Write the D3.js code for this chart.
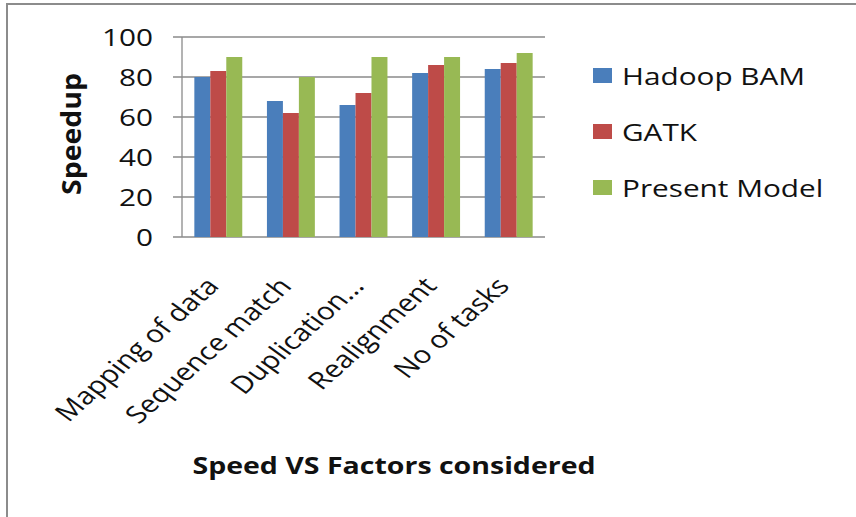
<!DOCTYPE html>
<html>
<head>
<meta charset="utf-8">
<script src="https://cdn.jsdelivr.net/npm/d3@7"></script>
<style>
  body { margin: 0; background: #fff; }
  svg text { font-family: "Open Sans", "DejaVu Sans", sans-serif; fill: #111; }
</style>
</head>
<body>
<svg id="chart" width="856" height="517"></svg>
<script>
// data
const categories = ['Mapping of data', 'Sequence match', 'Duplication...', 'Realignment', 'No of tasks']
const seriesNames = ['Hadoop BAM', 'GATK', 'Present Model']
const hadoopBam = [80, 68, 66, 82, 84]
const gatk = [83, 62, 72, 86, 87]
const presentModel = [90, 80, 90, 90, 92]
const yTicks = [0, 20, 40, 60, 80, 100]
const colors = ['#4a7ebb', '#be4b48', '#98b954']

const seriesValues = [hadoopBam, gatk, presentModel]
const rows = categories.map((c, i) => ({
  category: c,
  values: seriesNames.map((s, j) => ({ key: s, value: seriesValues[j][i] })),
}))

// the source picture is stretched sideways, so texts get a horizontal scale
const sx = 1.24
const place = (x, y) => `translate(${x},${y}) scale(${sx},1)`

const svg = d3.select('#chart')

// outer frame of the chart
svg
  .append('rect')
  .attr('x', 7)
  .attr('y', 4)
  .attr('width', 870)
  .attr('height', 540)
  .attr('fill', 'none')
  .attr('stroke', '#8c8c8c')
  .attr('stroke-width', 2)

const plot = { left: 182, right: 545, top: 37, bottom: 237 }

const y = d3.scaleLinear().domain([0, 100]).range([plot.bottom, plot.top])
const x0 = d3
  .scaleBand()
  .domain(categories)
  .range([plot.left, plot.right])
  .paddingInner(0.34)
  .paddingOuter(0.17)
const x1 = d3.scaleBand().domain(seriesNames).range([0, x0.bandwidth()])
const color = d3.scaleOrdinal().domain(seriesNames).range(colors)

// gridlines
svg
  .append('g')
  .attr('id', 'grid')
  .selectAll('line')
  .data(yTicks)
  .join('line')
  .attr('x1', plot.left - 9)
  .attr('x2', plot.right)
  .attr('y1', (d) => y(d))
  .attr('y2', (d) => y(d))
  .attr('stroke', '#8a8a8a')
  .attr('stroke-width', 1.3)

// y axis line
svg
  .append('line')
  .attr('x1', plot.left)
  .attr('x2', plot.left)
  .attr('y1', plot.top)
  .attr('y2', plot.bottom)
  .attr('stroke', '#8a8a8a')
  .attr('stroke-width', 1.3)

// y tick labels
svg
  .append('g')
  .attr('id', 'yAxis')
  .selectAll('text')
  .data(yTicks)
  .join('text')
  .attr('transform', (d) => place(plot.left - 29, y(d)))
  .attr('text-anchor', 'end')
  .attr('dy', '0.36em')
  .attr('font-size', 24)
  .text((d) => d)

// bars
const groups = svg
  .append('g')
  .attr('id', 'bars')
  .selectAll('g')
  .data(rows)
  .join('g')
  .attr('transform', (d) => `translate(${x0(d.category)},0)`)

groups
  .selectAll('rect')
  .data((d) => d.values)
  .join('rect')
  .attr('x', (d) => x1(d.key))
  .attr('y', (d) => y(d.value))
  .attr('width', x1.bandwidth())
  .attr('height', (d) => y(0) - y(d.value))
  .attr('fill', (d) => color(d.key))

// x tick labels, rotated
svg
  .append('g')
  .attr('id', 'xAxis')
  .selectAll('text')
  .data(categories)
  .join('text')
  .attr(
    'transform',
    (d) => `${place(x0(d) + x0.bandwidth() / 2 + 2, plot.bottom + 50)} rotate(-48)`
  )
  .attr('text-anchor', 'end')
  .attr('font-size', 24)
  .text((d) => d)

// y axis title
svg
  .append('text')
  .attr('transform', `translate(81,134) scale(${sx},1) rotate(-90)`)
  .attr('text-anchor', 'middle')
  .attr('font-size', 22)
  .attr('font-weight', 'bold')
  .attr('textLength', 122)
  .attr('lengthAdjust', 'spacingAndGlyphs')
  .text('Speedup')

// x axis title
svg
  .append('text')
  .attr('transform', place(394, 474))
  .attr('text-anchor', 'middle')
  .attr('font-size', 23)
  .attr('font-weight', 'bold')
  .text('Speed VS Factors considered')

// legend
const legend = svg
  .append('g')
  .attr('id', 'legend')
  .selectAll('g')
  .data(seriesNames)
  .join('g')
  .attr('transform', (d, i) => `translate(593,${76 + i * 56})`)

legend
  .append('rect')
  .attr('x', 0)
  .attr('y', -8)
  .attr('width', 19)
  .attr('height', 15)
  .attr('fill', (d) => color(d))

legend
  .append('text')
  .attr('transform', place(29, 0))
  .attr('dy', '0.36em')
  .attr('font-size', 24)
  .text((d) => d)
</script>
</body>
</html>
